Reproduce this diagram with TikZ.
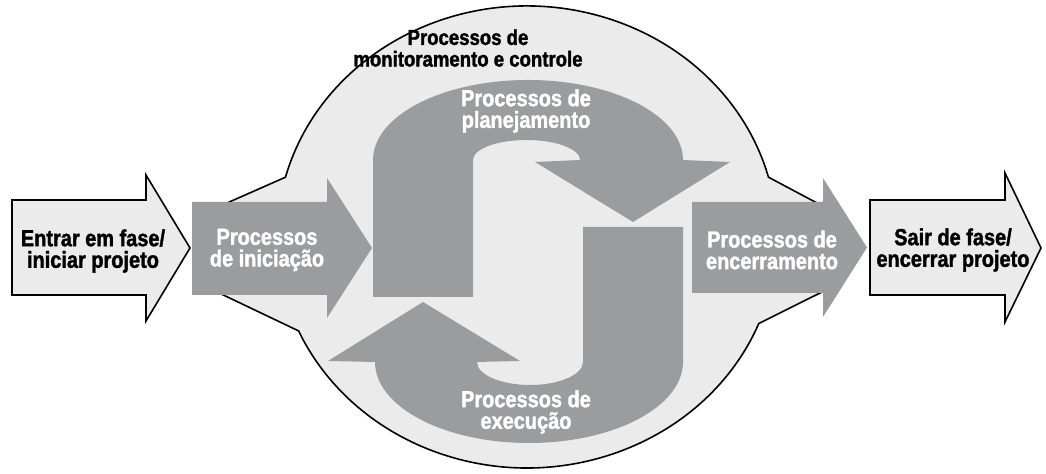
\documentclass[tikz,border=0pt]{standalone}
\usepackage{fontspec}
\setmainfont{Liberation Sans}[FakeStretch=0.86,BoldFeatures={FakeBold=1.6}]
\usepackage{tikz}
\usetikzlibrary{positioning}
\definecolor{fundo}{RGB}{235,235,235}
\definecolor{cinza}{RGB}{155,156,158}

\begin{document}
\begin{tikzpicture}
[x=0.5pt,y=-0.5pt,
 lbl/.style={align=center,inner sep=0pt,font=\fontsize{11.6}{10.8}\selectfont\bfseries},
 wlbl/.style={lbl,text=white},
 borda/.style={draw=black,line width=0.8pt,fill=fundo,line join=miter},
 bloco/.style={fill=cinza,draw=none}]
\useasboundingbox (0,0) rectangle (1046,474);

% area de monitoramento e controle
\draw[borda] (227,203) -- (285.5,177.2) arc[start angle=195,end angle=345,x radius=250,y radius=231]
  -- (817,203) -- (822,292) -- (758.8,323.5) arc[start angle=22,end angle=156,x radius=250,y radius=231]
  -- (217,292) -- cycle;

% setas de fora
\draw[borda] (12,200) -- (146,200) -- (146,175) -- (190,248) -- (146,321) -- (146,295) -- (12,295) -- cycle;
\draw[borda] (870,200) -- (1005,200) -- (1005,173) -- (1041,248) -- (1005,322) -- (1005,295) -- (870,295) -- cycle;

% setas cinzas
\fill[bloco] (192,202) -- (327,202) -- (327,178) -- (372,248) -- (327,318) -- (327,295) -- (192,295) -- cycle;
\fill[bloco] (692,202) -- (823,202) -- (823,178) -- (867,247.5) -- (823,317) -- (823,293) -- (692,293) -- cycle;

% planejamento
\fill[bloco] (373,297) -- (373,160) arc[start angle=180,end angle=360,x radius=155,y radius=80]
  -- (730,162) -- (633,222) -- (535,162) -- (580,160)
  arc[start angle=0,end angle=-180,x radius=53.5,y radius=20] -- (473,297) -- cycle;

% execucao
\fill[bloco] (683,227) -- (683,362) arc[start angle=0,end angle=180,x radius=154,y radius=81]
  -- (328,361) -- (423,302) -- (520,361) -- (477,362)
  arc[start angle=180,end angle=0,x radius=53,y radius=23] -- (583,227) -- cycle;

\node[lbl] (entrar) at (93,251) {Entrar em fase/\\iniciar projeto};
\node[wlbl] (inic) at (267,250) {Processos\\de iniciação};
\node[lbl,font=\fontsize{10.8}{10.8}\selectfont\bfseries] (monit) at (468,48) {Processos de\\monitoramento e controle};
\node[wlbl] (plan) at (526,111) {Processos de\\planejamento};
\node[wlbl] (exec) at (526,412) {Processos de\\execução};
\node[wlbl] (encer) at (772,250) {Processos de\\encerramento};
\node[lbl] (sair) at (953,250) {Sair de fase/\\encerrar projeto};
\end{tikzpicture}
\end{document}
